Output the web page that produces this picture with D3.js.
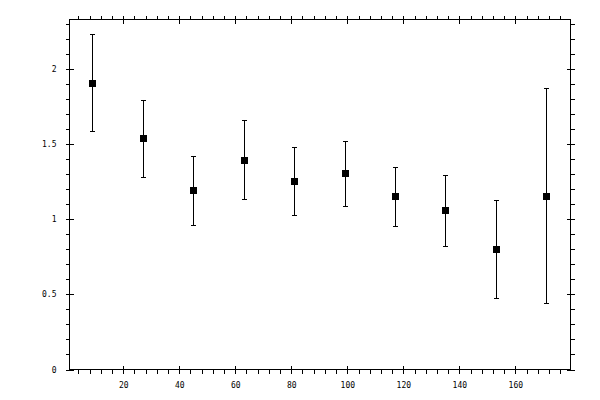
<!DOCTYPE html>
<html>
<head>
<meta charset="utf-8">
<script src="https://cdn.jsdelivr.net/npm/d3@7"></script>
<style>
  body { margin: 0; background: #fff; }
  text { font-family: "DejaVu Sans Mono", monospace; font-size: 8px; fill: #000; }
</style>
</head>
<body>
<div id="chart"></div>
<script>
var w = 600;
var h = 400;

// bin centres and measured values with lower/upper error limits
var xValues = [9, 27, 45, 63, 81, 99, 117, 135, 153, 171];
var yValues = [1.907, 1.542, 1.196, 1.395, 1.255, 1.309, 1.156, 1.063, 0.803, 1.156];
var yLower = [1.590, 1.284, 0.965, 1.136, 1.029, 1.089, 0.956, 0.823, 0.477, 0.444];
var yUpper = [2.231, 1.792, 1.422, 1.661, 1.482, 1.522, 1.349, 1.295, 1.129, 1.874];

var xMajor = [20, 40, 60, 80, 100, 120, 140, 160];
var yMajor = [0, 0.5, 1, 1.5, 2];
var xMinor = d3.range(4, 180, 4);
var yMinor = d3.range(0, 24).map(function (d) { return d / 10; });

var plotLeft = 69.5, plotRight = 570.5, plotTop = 19.5, plotBottom = 369.5;

var xScale = d3.scaleLinear().domain([0.8, 179.7]).range([plotLeft, plotRight]);
var yScale = d3.scaleLinear().domain([0, 2.33]).range([plotBottom, plotTop]);

var svg = d3.select("#chart").append("svg").attr("width", w).attr("height", h);

function styleAxis(g) {
  g.selectAll("path, line").attr("stroke", "#000").attr("stroke-width", 1)
    .attr("shape-rendering", "crispEdges");
  g.select(".domain").remove();
}

// bottom axis
svg.append("g").attr("transform", "translate(0," + plotBottom + ")")
  .call(d3.axisBottom(xScale).tickValues(xMinor).tickSize(4).tickFormat(""))
  .call(styleAxis);
svg.append("g").attr("transform", "translate(0," + plotBottom + ")")
  .call(d3.axisBottom(xScale).tickValues(xMajor).tickSize(-4).tickPadding(13)
    .tickFormat(d3.format("d")))
  .call(styleAxis);

// top axis
svg.append("g").attr("transform", "translate(0," + plotTop + ")")
  .call(d3.axisTop(xScale).tickValues(xMinor).tickSize(4).tickFormat(""))
  .call(styleAxis);
svg.append("g").attr("transform", "translate(0," + plotTop + ")")
  .call(d3.axisTop(xScale).tickValues(xMajor).tickSize(-4).tickFormat(""))
  .call(styleAxis);

// left axis
svg.append("g").attr("transform", "translate(" + plotLeft + ",0)")
  .call(d3.axisLeft(yScale).tickValues(yMinor).tickSize(4).tickFormat(""))
  .call(styleAxis);
svg.append("g").attr("transform", "translate(" + plotLeft + ",0)")
  .call(d3.axisLeft(yScale).tickValues(yMajor).tickSize(-4).tickPadding(13)
    .tickFormat(function (d) { return String(d); }))
  .call(styleAxis);

// right axis
svg.append("g").attr("transform", "translate(" + plotRight + ",0)")
  .call(d3.axisRight(yScale).tickValues(yMinor).tickSize(4).tickFormat(""))
  .call(styleAxis);
svg.append("g").attr("transform", "translate(" + plotRight + ",0)")
  .call(d3.axisRight(yScale).tickValues(yMajor).tickSize(-4).tickFormat(""))
  .call(styleAxis);

// frame
svg.append("rect")
  .attr("x", plotLeft).attr("y", plotTop)
  .attr("width", plotRight - plotLeft).attr("height", plotBottom - plotTop)
  .attr("fill", "none").attr("stroke", "#000")
  .attr("shape-rendering", "crispEdges");

var idx = d3.range(xValues.length);

var bars = svg.append("g").attr("stroke", "#000").attr("shape-rendering", "crispEdges");

bars.selectAll(".err")
  .data(idx)
  .enter()
  .append("line")
  .attr("x1", function (i) { return Math.round(xScale(xValues[i])) + 0.5; })
  .attr("x2", function (i) { return Math.round(xScale(xValues[i])) + 0.5; })
  .attr("y1", function (i) { return yScale(yLower[i]); })
  .attr("y2", function (i) { return yScale(yUpper[i]); });

bars.selectAll(".capTop")
  .data(idx)
  .enter()
  .append("line")
  .attr("x1", function (i) { return Math.round(xScale(xValues[i])) - 2; })
  .attr("x2", function (i) { return Math.round(xScale(xValues[i])) + 3; })
  .attr("y1", function (i) { return Math.round(yScale(yUpper[i])) + 0.5; })
  .attr("y2", function (i) { return Math.round(yScale(yUpper[i])) + 0.5; });

bars.selectAll(".capBottom")
  .data(idx)
  .enter()
  .append("line")
  .attr("x1", function (i) { return Math.round(xScale(xValues[i])) - 2; })
  .attr("x2", function (i) { return Math.round(xScale(xValues[i])) + 3; })
  .attr("y1", function (i) { return Math.round(yScale(yLower[i])) + 0.5; })
  .attr("y2", function (i) { return Math.round(yScale(yLower[i])) + 0.5; });

svg.selectAll(".pt")
  .data(idx)
  .enter()
  .append("rect")
  .attr("x", function (i) { return Math.round(xScale(xValues[i])) - 3; })
  .attr("y", function (i) { return Math.round(yScale(yValues[i])) - 3; })
  .attr("width", 7)
  .attr("height", 7)
  .attr("fill", "#000")
  .attr("shape-rendering", "crispEdges");
</script>
</body>
</html>
